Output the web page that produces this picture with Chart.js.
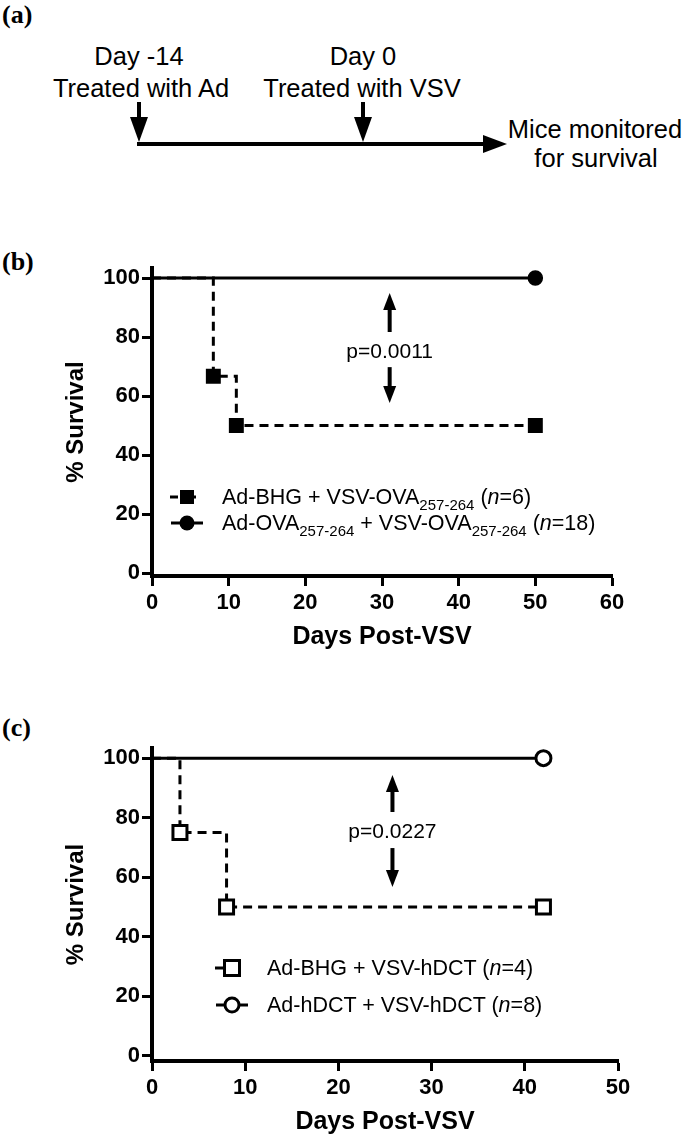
<!DOCTYPE html>
<html>
<head>
<meta charset="utf-8">
<script src="https://cdn.jsdelivr.net/npm/chart.js@4"></script>
<style>
    body { margin: 0; background: #fff; width: 685px; height: 1141px; position: relative; overflow: hidden;
           font-family: "Liberation Sans", Arial, sans-serif; color: #000; }
    .tag { position: absolute; left: 2px; font: bold 26px "Liberation Serif", "Times New Roman", serif; line-height: 26px; }
    canvas { position: absolute; left: 0; }
    .legend-row { position: absolute; height: 26px; display: flex; align-items: center; font-size: 21.5px; white-space: nowrap; }
    .legend-row svg { flex: none; }
    .legend-row span { position: absolute; white-space: nowrap; }
    sub { font-size: 15px; vertical-align: -6px; line-height: 0; }
</style>
</head>
<body>

<div class="tag" style="top:2px">(a)</div>
<svg style="position:absolute;left:0;top:0" width="685" height="200">
    <g font-family="Liberation Sans, Arial, sans-serif" font-size="25.5" text-anchor="middle" fill="#000">
        <text x="139" y="65">Day -14</text>
        <text x="141" y="97">Treated with Ad</text>
        <text x="363" y="65">Day 0</text>
        <text x="362" y="97">Treated with VSV</text>
        <text x="595" y="138">Mice monitored</text>
        <text x="596" y="167">for survival</text>
    </g>
    <g stroke="#000" stroke-width="4" fill="#000">
        <line x1="139" y1="102" x2="139" y2="120"/>
        <polygon stroke="none" points="130,117 148,117 139,142"/>
        <line x1="363" y1="102" x2="363" y2="120"/>
        <polygon stroke="none" points="354,117 372,117 363,142"/>
        <line x1="137" y1="144" x2="486" y2="144"/>
        <polygon stroke="none" points="483,135 483,153 507,144"/>
    </g>
</svg>

<div class="tag" style="top:249px">(b)</div>
<canvas id="js--chart--b" width="685" height="430" style="top:230px"></canvas>

<div class="tag" style="top:715px">(c)</div>
<canvas id="js--chart--c" width="685" height="431" style="top:710px"></canvas>

<div id="js--legend--b"></div>
<div id="js--legend--c"></div>

<script>
// shared ticks
const yTicks = [0, 20, 40, 60, 80, 100];
const xTicksB = [0, 10, 20, 30, 40, 50, 60];
const xTicksC = [0, 10, 20, 30, 40, 50];

// panel (b)
const daysOvaB = [0, 50];
const survOvaB = [100, 100];
const daysBhgB = [0, 8, 11, 50];
const survBhgB = [100, 66.7, 50, 50];
const labelsB = [
    "Ad-BHG + VSV-OVA<sub>257-264</sub> (<i>n</i>=6)",
    "Ad-OVA<sub>257-264</sub> + VSV-OVA<sub>257-264</sub> (<i>n</i>=18)"
];
const pValueB = "p=0.0011";

// panel (c)
const daysDctC = [0, 42];
const survDctC = [100, 100];
const daysBhgC = [0, 3, 8, 42];
const survBhgC = [100, 75, 50, 50];
const labelsC = [
    "Ad-BHG + VSV-hDCT (<i>n</i>=4)",
    "Ad-hDCT + VSV-hDCT (<i>n</i>=8)"
];
const pValueC = "p=0.0227";

const fontFamily = '"Liberation Sans", Arial, sans-serif';

function toPoints(xs, ys){
    return xs.map(function(x, i){ return {x: x, y: ys[i]}; });
}

function drawArrow(ctx, x, y0, y1){
    const dir = Math.sign(y1 - y0);
    const head = 17;
    ctx.beginPath();
    ctx.moveTo(x, y0);
    ctx.lineTo(x, y1 - dir * (head - 2));
    ctx.stroke();
    ctx.beginPath();
    ctx.moveTo(x, y1);
    ctx.lineTo(x - 6.5, y1 - dir * head);
    ctx.lineTo(x + 6.5, y1 - dir * head);
    ctx.closePath();
    ctx.fill();
}

// p-value with arrows between the two curves
const pArrows = {
    id: "pArrows",
    afterDatasetsDraw(chart, args, o){
        const ctx = chart.ctx;
        const x = chart.scales.x, y = chart.scales.y;
        const px = x.getPixelForValue(o.at);
        ctx.save();
        ctx.fillStyle = "#000";
        ctx.strokeStyle = "#000";
        ctx.lineWidth = 4;
        drawArrow(ctx, px, y.getPixelForValue(o.up[0]), y.getPixelForValue(o.up[1]));
        drawArrow(ctx, px, y.getPixelForValue(o.down[0]), y.getPixelForValue(o.down[1]));
        ctx.font = "21px " + fontFamily;
        ctx.textAlign = "center";
        ctx.textBaseline = "middle";
        ctx.fillText(o.text, px, y.getPixelForValue(o.textAt));
        ctx.restore();
    }
};

const axisGrid = { display: true, drawOnChartArea: false, drawTicks: true, tickLength: 10, tickWidth: 3, tickColor: "#000", color: "#000" };
const axisBorder = { display: true, width: 4, color: "#000" };
const tickFont = { family: fontFamily, size: 22, weight: "bold" };

function survivalChart(id, sets, xTicks, xMax, yMin, box, arrows){
    return new Chart(document.getElementById(id), {
        type: "line",
        data: { datasets: sets },
        options: {
            responsive: false,
            animation: false,
            events: [],
            layout: { padding: { top: 38, left: 0, right: box.right, bottom: 0 } },
            plugins: { legend: { display: false }, tooltip: { enabled: false }, pArrows: arrows },
            scales: {
                x: {
                    type: "linear", min: 0, max: xMax,
                    afterBuildTicks: function(s){ s.ticks = xTicks.map(function(v){ return {value: v}; }); },
                    afterFit: function(s){ s.height = box.xHeight; },
                    grid: axisGrid, border: axisBorder,
                    ticks: { font: tickFont, color: "#000", padding: 4, maxRotation: 0, autoSkip: false },
                    title: { display: true, text: "Days Post-VSV", color: "#000",
                             font: { family: fontFamily, size: 25, weight: "bold" },
                             padding: { top: 0, bottom: box.titleBottom } }
                },
                y: {
                    type: "linear", min: yMin, max: 103.4,
                    afterBuildTicks: function(s){ s.ticks = yTicks.map(function(v){ return {value: v}; }); },
                    afterFit: function(s){ s.width = 152; },
                    grid: axisGrid, border: axisBorder,
                    ticks: { font: tickFont, color: "#000", padding: 2, autoSkip: false },
                    title: { display: true, text: "% Survival", color: "#000",
                             font: { family: fontFamily, size: 24, weight: "bold" },
                             padding: { top: 62, bottom: 0 } }
                }
            }
        },
        plugins: [pArrows]
    });
}

survivalChart("js--chart--b", [
    {
        data: toPoints(daysOvaB, survOvaB), stepped: true, borderColor: "#000", borderWidth: 3,
        pointStyle: "circle", pointRadius: [0, 7], pointBorderWidth: 1.5,
        pointBackgroundColor: "#000", pointBorderColor: "#000", clip: false
    },
    {
        data: toPoints(daysBhgB, survBhgB), stepped: true, borderColor: "#000", borderWidth: 3, borderDash: [9, 6],
        pointStyle: "rect", pointRadius: [0, 9.5, 9.5, 9.5], pointBorderWidth: 1.5,
        pointBackgroundColor: "#000", pointBorderColor: "#000", clip: false
    }
], xTicksB, 60, -1, { right: 73, xHeight: 84, titleBottom: 8 },
   { at: 31, up: [81.7, 94.9], down: [69.8, 57.6], textAt: 74.9, text: pValueB });

survivalChart("js--chart--c", [
    {
        data: toPoints(daysDctC, survDctC), stepped: true, borderColor: "#000", borderWidth: 3,
        pointStyle: "circle", pointRadius: [0, 7.5], pointBorderWidth: 3,
        pointBackgroundColor: "#fff", pointBorderColor: "#000", clip: false
    },
    {
        data: toPoints(daysBhgC, survBhgC), stepped: true, borderColor: "#000", borderWidth: 3, borderDash: [9, 6],
        pointStyle: "rect", pointRadius: [0, 9.9, 9.9, 9.9], pointBorderWidth: 3,
        pointBackgroundColor: "#fff", pointBorderColor: "#000", clip: false
    }
], xTicksC, 50, -1.7, { right: 67, xHeight: 80, titleBottom: 4 },
   { at: 25.8, up: [81.9, 94.3], down: [69.8, 56.7], textAt: 75.2, text: pValueC });

// legends (html so the subscripts stay real text)
function markerSvg(kind, filled){
    const fill = filled ? "#000" : "#fff";
    let line, mark;
    if (kind === "rect"){
        line = '<line x1="0" y1="13" x2="34" y2="13" stroke="#000" stroke-width="3" stroke-dasharray="8,10"/>';
        mark = filled ? '<rect x="10" y="6" width="14" height="14" fill="#000"/>'
                      : '<rect x="9.5" y="5.5" width="15" height="15" fill="#fff" stroke="#000" stroke-width="3"/>';
    } else {
        line = '<line x1="1" y1="13" x2="33" y2="13" stroke="#000" stroke-width="3"/>';
        mark = '<circle cx="17" cy="13" r="' + (filled ? 7.5 : 7) + '" fill="' + fill + '" stroke="#000" stroke-width="' + (filled ? 0 : 3) + '"/>';
    }
    return '<svg width="34" height="26">' + line + mark + '</svg>';
}

function buildLegend(el, labels, kinds, filled, left, textLeft, rowsY){
    let html = "";
    for (let i = 0; i < labels.length; i++){
        html += '<div class="legend-row" style="left:' + left + 'px;top:' + (rowsY[i] - 13) + 'px">' +
                markerSvg(kinds[i], filled) +
                '<span style="left:' + (textLeft - left) + 'px">' + labels[i] + '</span></div>';
    }
    el.innerHTML = html;
}

buildLegend(document.getElementById("js--legend--b"), labelsB, ["rect", "circle"], true, 170, 222, [497, 523]);
buildLegend(document.getElementById("js--legend--c"), labelsC, ["rect", "circle"], false, 215, 267, [968, 1005]);
</script>
</body>
</html>
